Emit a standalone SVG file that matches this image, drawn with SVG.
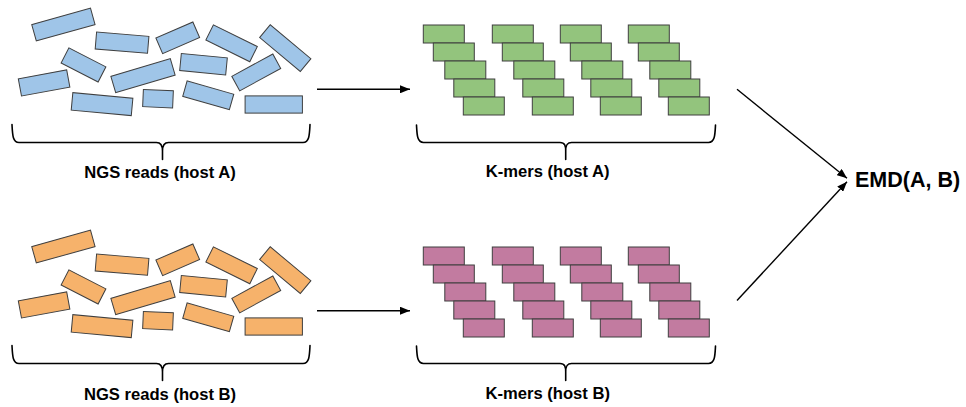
<svg xmlns="http://www.w3.org/2000/svg" xmlns:xlink="http://www.w3.org/1999/xlink" width="966" height="407" viewBox="0 0 966 407">
  <style>
    .read { stroke: #3f3f3f; stroke-width: 1; }
    .blue { fill: #9fc5e8; }
    .orange { fill: #f6b26b; }
    .green { fill: #93c47d; }
    .pink { fill: #c27ba0; }
    .brace { fill: none; stroke: #000; stroke-width: 1.6; stroke-linecap: round; stroke-linejoin: round; }
    .edge { fill: none; stroke: #000; stroke-width: 1.4; }
    .label { font-family: "Liberation Sans", Arial, sans-serif; font-weight: bold; font-size: 16.6px; fill: #000; text-anchor: middle; }
    .result { font-family: "Liberation Sans", Arial, sans-serif; font-weight: bold; font-size: 21.5px; fill: #000; }
  </style>
  <defs>
    <marker id="head" viewBox="0 0 10 8" refX="10" refY="4" markerWidth="10" markerHeight="8" markerUnits="userSpaceOnUse" orient="auto">
      <path d="M0,0 L10,4 L0,8 Z" fill="#000"/>
    </marker>

    <!-- scattered sequencing reads, drawn once and reused for both hosts -->
    <g id="reads">
      <rect x="-30.5" y="-8.5" width="61" height="17" transform="translate(63.4,24.6) rotate(-15.6)"/>
      <rect x="-26.2" y="-8.5" width="52.5" height="17" transform="translate(122,42.7) rotate(4.7)"/>
      <rect x="-20.1" y="-8.5" width="40.3" height="17" transform="translate(177.7,37.8) rotate(-23.4)"/>
      <rect x="-24.5" y="-8.5" width="49" height="17" transform="translate(231.6,43.3) rotate(26.3)"/>
      <rect x="-26.5" y="-8.2" width="53" height="16.5" transform="translate(285.3,48.1) rotate(39.9)"/>
      <rect x="-20.8" y="-8.5" width="41.6" height="17" transform="translate(83.5,64.9) rotate(27.2)"/>
      <rect x="-24.6" y="-8.8" width="49.2" height="17.5" transform="translate(44.1,83) rotate(-10.5)"/>
      <rect x="-31" y="-8.5" width="62" height="17" transform="translate(143,75.7) rotate(-16.5)"/>
      <rect x="-23.1" y="-8.6" width="46.2" height="17.2" transform="translate(203.5,64.2) rotate(5.5)"/>
      <rect x="-23.3" y="-8.2" width="46.7" height="16.5" transform="translate(256.2,72.4) rotate(-28.6)"/>
      <rect x="-28.6" y="-8.6" width="57.3" height="17.2" transform="translate(273.7,104.5)"/>
      <rect x="-30.1" y="-8.8" width="60.3" height="17.5" transform="translate(102,104.2) rotate(5.3)"/>
      <rect x="-15" y="-8.6" width="30" height="17.2" transform="translate(158,98.7) rotate(2.5)"/>
      <rect x="-24.2" y="-8" width="48.5" height="16" transform="translate(208.2,95.3) rotate(15.9)"/>
    </g>

    <!-- one staircase of overlapping k-mers -->
    <g id="stair">
      <rect x="0" y="0" width="41" height="18"/>
      <rect x="10" y="18" width="41" height="18"/>
      <rect x="21.5" y="36" width="41" height="18"/>
      <rect x="30.5" y="54" width="41" height="18"/>
      <rect x="40" y="72" width="41" height="18"/>
    </g>

    <g id="kmers">
      <use xlink:href="#stair" x="423.3" y="25"/>
      <use xlink:href="#stair" x="492.3" y="25"/>
      <use xlink:href="#stair" x="560.3" y="25"/>
      <use xlink:href="#stair" x="628.3" y="25"/>
    </g>
  </defs>

  <!-- host A -->
  <g id="reads-host-a">
    <use xlink:href="#reads" class="read blue"/>
    <path class="brace" d="M12,124.5 C12.5,134 12.5,142.5 19,142.5 L156.5,142.5 C161.5,142.5 162.5,146 162.5,151 L162.5,159.5 M162.5,151 C162.5,146 163.5,142.5 168.5,142.5 L303,142.5 C309.5,142.5 309.5,134 310,124.5"/>
    <text class="label" x="160" y="177.5">NGS reads (host A)</text>
  </g>

  <g id="kmers-host-a">
    <use xlink:href="#kmers" class="read green"/>
    <path class="brace" d="M416.5,125 C417,134.5 417,142.5 423.5,142.5 L560,142.5 C565,142.5 565.7,146 565.7,151 L565.7,159.5 M565.7,151 C565.7,146 566.5,142.5 571.5,142.5 L708.5,142.5 C715,142.5 715,134.5 715.5,125"/>
    <text class="label" x="547.7" y="177">K-mers (host A)</text>
  </g>

  <!-- host B -->
  <g id="reads-host-b">
    <use xlink:href="#reads" class="read orange" transform="translate(0,222)"/>
    <path class="brace" transform="translate(0,221)" d="M12,124.5 C12.5,134 12.5,142.5 19,142.5 L156.5,142.5 C161.5,142.5 162.5,146 162.5,151 L162.5,159.5 M162.5,151 C162.5,146 163.5,142.5 168.5,142.5 L303,142.5 C309.5,142.5 309.5,134 310,124.5"/>
    <text class="label" x="160" y="399.5">NGS reads (host B)</text>
  </g>

  <g id="kmers-host-b">
    <use xlink:href="#kmers" class="read pink" transform="translate(0,222)"/>
    <path class="brace" transform="translate(0,221)" d="M416.5,125 C417,134.5 417,142.5 423.5,142.5 L560,142.5 C565,142.5 565.7,146 565.7,151 L565.7,159.5 M565.7,151 C565.7,146 566.5,142.5 571.5,142.5 L708.5,142.5 C715,142.5 715,134.5 715.5,125"/>
    <text class="label" x="547.7" y="399">K-mers (host B)</text>
  </g>

  <!-- result -->
  <g id="emd">
    <text class="result" x="855" y="187">EMD(A, B)</text>
  </g>

  <!-- connectors -->
  <g id="connectors">
    <line class="edge" x1="317" y1="89.3" x2="410" y2="89.3" marker-end="url(#head)"/>
    <line class="edge" x1="317" y1="310.7" x2="410" y2="310.7" marker-end="url(#head)"/>
    <line class="edge" x1="737" y1="89.3" x2="847" y2="178.3" marker-end="url(#head)"/>
    <line class="edge" x1="737" y1="300.5" x2="847" y2="181.8" marker-end="url(#head)"/>
  </g>
</svg>
